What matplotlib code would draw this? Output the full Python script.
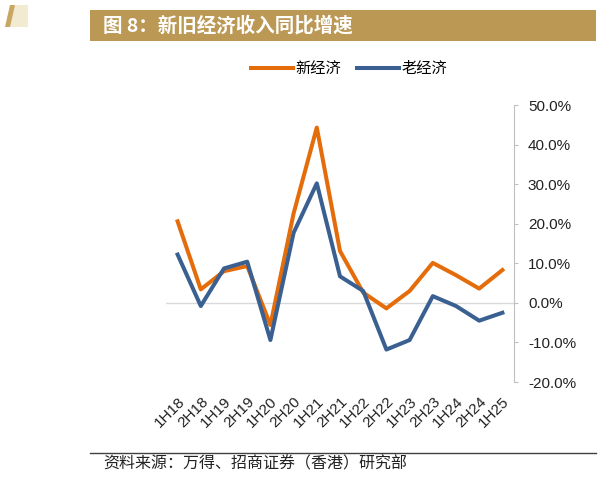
import numpy as np
import matplotlib.pyplot as plt
from matplotlib.patches import Rectangle, Polygon
from matplotlib.lines import Line2D

plt.rcParams['font.family'] = ['Liberation Sans', 'Noto Sans CJK SC', 'DejaVu Sans']

# 数据
periods = ['1H18', '2H18', '1H19', '2H19', '1H20', '2H20', '1H21', '2H21',
           '1H22', '2H22', '1H23', '2H23', '1H24', '2H24', '1H25']
new_econ = [20.6, 3.4, 8.0, 9.3, -5.6, 22.6, 44.3, 13.1,
            2.6, -1.4, 3.0, 10.1, 7.0, 3.6, 8.3]
old_econ = [12.2, -0.8, 8.7, 10.4, -9.4, 17.7, 30.2, 6.7,
            3.0, -11.8, -9.4, 1.7, -0.8, -4.5, -2.5]
y_ticks = [-20, -10, 0, 10, 20, 30, 40, 50]

W, H = 601, 478
fig = plt.figure(figsize=(W / 100, H / 100), dpi=100)
cjk = ['Noto Sans CJK SC', 'DejaVu Sans']

# 标题栏
fig.patches.append(Rectangle((90 / W, 1 - 41 / H), (596 - 90) / W, 31.5 / H,
                             transform=fig.transFigure, facecolor='#BC9855',
                             edgecolor='none'))
fig.text(103 / W, 1 - 25.5 / H, '图 8：新旧经济收入同比增速', color='white',
         fontsize=14, fontweight='bold', va='center', ha='left', family=cjk)
# 左上角小标志
fig.patches.append(Polygon([(5 / W, 1 - 27 / H), (12 / W, 1 - 5 / H),
                            (28 / W, 1 - 5 / H), (28 / W, 1 - 27 / H)],
                           closed=True, transform=fig.transFigure,
                           facecolor='#F3EAD2', edgecolor='none'))
fig.patches.append(Polygon([(5 / W, 1 - 27 / H), (10 / W, 1 - 5 / H),
                            (15 / W, 1 - 5 / H), (10 / W, 1 - 27 / H)],
                           closed=True, transform=fig.transFigure,
                           facecolor='#C9A661', edgecolor='none'))

# 主图
ax = fig.add_axes([166 / W, 1 - 382 / H, (514 - 166) / W, (382 - 105) / H])
x = np.arange(len(periods))
c_new = '#E46C0A'
c_old = '#3A6091'
ax.axhline(0, color='#D9D9D9', lw=1, zorder=1)
ax.plot(x, new_econ, color=c_new, lw=2.9, zorder=3)
ax.plot(x, old_econ, color=c_old, lw=2.9, zorder=4)

ax.set_xlim(-0.5, len(periods) - 0.5)
ax.set_ylim(-20, 50)
for s in ['left', 'top', 'bottom']:
    ax.spines[s].set_visible(False)
ax.spines['right'].set_color('#BFBFBF')
ax.yaxis.tick_right()
ax.set_yticks(y_ticks)
ax.set_yticklabels([f'{v:.1f}%' for v in y_ticks], fontsize=11, color='#222222')
ax.tick_params(axis='y', direction='out', length=3, color='#BFBFBF', pad=7)

ax.set_xticks(x)
ax.set_xticklabels(periods, rotation=45, ha='right', va='top',
                   rotation_mode='anchor', fontsize=11, color='#222222')
ax.tick_params(axis='x', length=0, pad=9)

# 图例
handles = [Line2D([], [], color=c_new, lw=2.9), Line2D([], [], color=c_old, lw=2.9)]
fig.legend(handles, ['新经济', '老经济'], loc='center', ncol=2,
           bbox_to_anchor=(349 / W, 1 - 69 / H), frameon=False,
           prop={'family': cjk, 'size': 11},
           handlelength=2.75, handletextpad=0.15, columnspacing=1.1)

# 底部分隔线与资料来源
fig.lines.append(Line2D([90 / W, 596 / W], [1 - 452.5 / H, 1 - 452.5 / H],
                        transform=fig.transFigure, color='#404040', lw=1))
fig.text(103 / W, 1 - 464 / H, '资料来源：万得、招商证券（香港）研究部',
         fontsize=11.5, style='italic', va='center', ha='left', color='#222222',
         family=cjk)

fig.savefig('out.png', dpi=100)
